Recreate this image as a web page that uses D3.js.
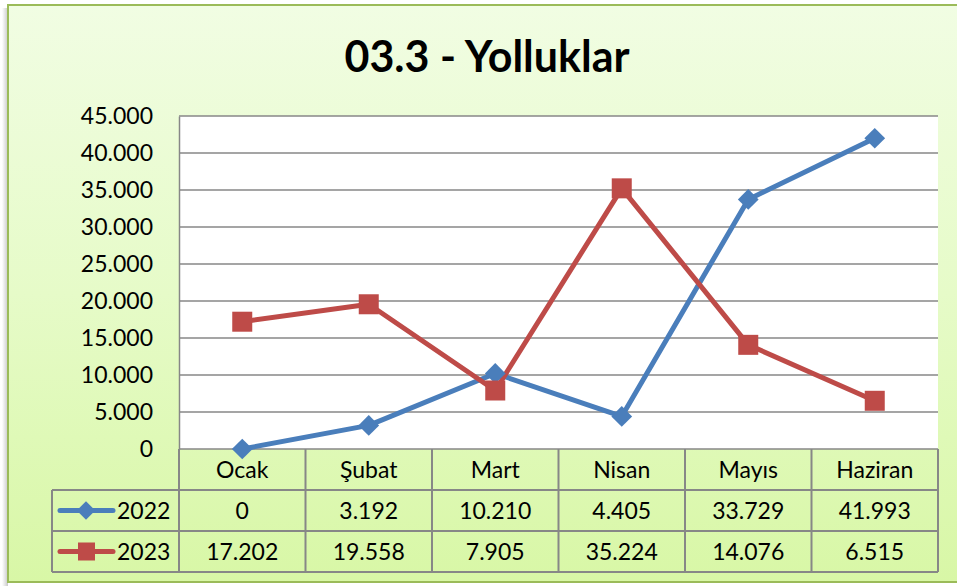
<!DOCTYPE html>
<html>
<head>
<meta charset="utf-8">
<script src="https://cdn.jsdelivr.net/npm/d3@7"></script>
<style>
  html, body { margin: 0; padding: 0; background: #fff; }
  svg { display: block; }
  text { font-family: Lato, "Open Sans", sans-serif; fill: #000; }
</style>
</head>
<body>
<div id="chart"></div>
<script>
const months = ['Ocak', 'Şubat', 'Mart', 'Nisan', 'Mayıs', 'Haziran'];
const years = ['2022', '2023'];
const values2022 = [0, 3192, 10210, 4405, 33729, 41993];
const values2023 = [17202, 19558, 7905, 35224, 14076, 6515];
const yTicks = [0, 5000, 10000, 15000, 20000, 25000, 30000, 35000, 40000, 45000];
const colors = ['#4a7ebb', '#be4b48'];

const W = 957, H = 588;
const plot = {left: 179, right: 938, top: 116, bottom: 449};
const rowH = 41;
const legendLeft = 52;

const fmt = n => d3.format(',')(n).replace(/,/g, '.');

const svg = d3.select('#chart').append('svg')
  .attr('width', W).attr('height', H);

const defs = svg.append('defs');
const grad = defs.append('linearGradient').attr('id', 'bg')
  .attr('x1', 0).attr('y1', 0).attr('x2', 0).attr('y2', 1);
grad.append('stop').attr('offset', 0).attr('stop-color', '#f1fde3');
grad.append('stop').attr('offset', 0.5).attr('stop-color', '#e6fbc8');
grad.append('stop').attr('offset', 1).attr('stop-color', '#d8f7a6');

const shadow = defs.append('linearGradient').attr('id', 'sh')
  .attr('x1', 0).attr('y1', 0).attr('x2', 1).attr('y2', 0);
shadow.append('stop').attr('offset', 0).attr('stop-color', '#fff');
shadow.append('stop').attr('offset', 1).attr('stop-color', '#c8c8c8');

// chart area + shadow
svg.append('rect').attr('x', 2).attr('y', 8).attr('width', 6).attr('height', 578).attr('fill', 'url(#sh)');
svg.append('rect').attr('x', 8).attr('y', 5).attr('width', 960).attr('height', 577)
  .attr('fill', 'url(#bg)').attr('stroke', '#9bbb59').attr('stroke-width', 2);

// title
svg.append('text').attr('x', 487).attr('y', 72)
  .attr('text-anchor', 'middle').attr('font-size', 43).attr('font-weight', 700)
  .text('03.3 - Yolluklar');

const x = d3.scaleBand().domain(months).range([plot.left, plot.right]);
const y = d3.scaleLinear().domain([0, 45000]).range([plot.bottom, plot.top]);

svg.append('rect').attr('x', plot.left).attr('y', plot.top)
  .attr('width', plot.right - plot.left).attr('height', plot.bottom - plot.top)
  .attr('fill', '#fff');

// gridlines
svg.append('g').selectAll('line').data(yTicks).join('line')
  .attr('x1', plot.left).attr('x2', plot.right)
  .attr('y1', d => y(d)).attr('y2', d => y(d))
  .attr('stroke', '#878787').attr('stroke-width', 1.5);

// y axis
const yAxis = svg.append('g').attr('transform', `translate(${plot.left},0)`)
  .call(d3.axisLeft(y).tickValues(yTicks).tickFormat(fmt).tickSize(0).tickPadding(26));
yAxis.select('.domain').attr('stroke', '#878787').attr('stroke-width', 1.5);
yAxis.selectAll('text').attr('font-size', 23).attr('font-family', 'Lato, sans-serif').attr('fill', '#000');

// data table
const table = svg.append('g');
const tStroke = '#878787';
const rows = [plot.bottom, plot.bottom + rowH, plot.bottom + 2 * rowH, plot.bottom + 3 * rowH];
table.append('line').attr('x1', legendLeft).attr('x2', plot.right)
  .attr('y1', rows[1]).attr('y2', rows[1]);
table.append('line').attr('x1', legendLeft).attr('x2', plot.right)
  .attr('y1', rows[2]).attr('y2', rows[2]);
table.append('line').attr('x1', legendLeft).attr('x2', plot.right)
  .attr('y1', rows[3]).attr('y2', rows[3]);
table.append('line').attr('x1', legendLeft).attr('x2', legendLeft)
  .attr('y1', rows[1]).attr('y2', rows[3]);
const colEdges = months.map(m => x(m)).concat([plot.right]);
table.selectAll('.vline').data(colEdges).join('line')
  .attr('x1', d => d).attr('x2', d => d)
  .attr('y1', rows[0]).attr('y2', rows[3]);
table.selectAll('line').attr('stroke', tStroke).attr('stroke-width', 2);

const cx = m => x(m) + x.bandwidth() / 2;
table.selectAll('.hdr').data(months).join('text')
  .attr('x', cx).attr('y', rows[0] + 29)
  .attr('text-anchor', 'middle').attr('font-size', 23).text(d => d);

[values2022, values2023].forEach((vals, i) => {
  table.selectAll('.v' + i).data(vals).join('text')
    .attr('x', (d, j) => cx(months[j])).attr('y', rows[i + 1] + 29)
    .attr('text-anchor', 'middle').attr('font-size', 23).text(d => fmt(d));
  // legend key
  const ly = rows[i + 1] + rowH / 2;
  table.append('line').attr('x1', 60).attr('x2', 113).attr('y1', ly).attr('y2', ly)
    .attr('stroke', colors[i]).attr('stroke-width', 5).attr('stroke-linecap', 'round');
  table.append('text').attr('x', 117).attr('y', rows[i + 1] + 29)
    .attr('font-size', 23).text(years[i]);
});
table.append('path')
  .attr('d', d3.symbol(d3.symbolSquare, 170)())
  .attr('transform', `translate(86,${rows[1] + rowH / 2}) rotate(45)`).attr('fill', colors[0]);
table.append('rect').attr('x', 78).attr('y', rows[2] + rowH / 2 - 9)
  .attr('width', 17).attr('height', 18).attr('fill', colors[1]);

// lines
const line = d3.line().x((d, j) => cx(months[j])).y(d => y(d));
[values2022, values2023].forEach((vals, i) => {
  svg.append('path').datum(vals).attr('d', line)
    .attr('fill', 'none').attr('stroke', colors[i]).attr('stroke-width', 5)
    .attr('stroke-linejoin', 'round');
});

// markers
svg.append('g').selectAll('path').data(values2022).join('path')
  .attr('d', d3.symbol(d3.symbolSquare, 215)())
  .attr('transform', (d, j) => `translate(${cx(months[j])},${y(d)}) rotate(45)`)
  .attr('fill', colors[0]);
svg.append('g').selectAll('rect').data(values2023).join('rect')
  .attr('x', (d, j) => cx(months[j]) - 10).attr('y', d => y(d) - 10)
  .attr('width', 20).attr('height', 20).attr('fill', colors[1]);
</script>
</body>
</html>
